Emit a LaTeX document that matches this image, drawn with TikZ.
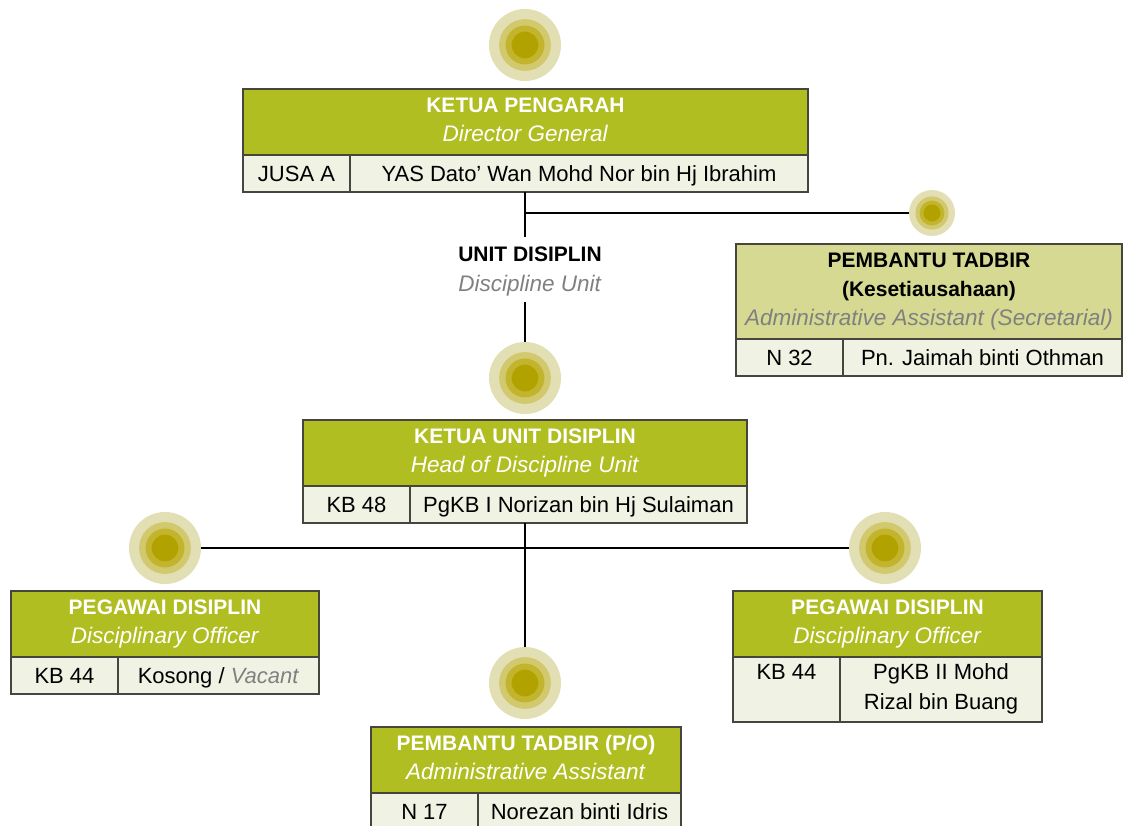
\documentclass[tikz,border=0pt]{standalone}
\usepackage{fontspec}
\setmainfont{Liberation Sans}
\usetikzlibrary{positioning}
\definecolor{OrgGreen}{RGB}{176,190,34}
\definecolor{OrgPale}{RGB}{213,217,145}
\definecolor{OrgCell}{RGB}{240,242,228}
\definecolor{OrgLine}{RGB}{70,70,62}
\definecolor{OrgGray}{RGB}{128,128,128}
\definecolor{OrgRingA}{RGB}{227,223,180}
\definecolor{OrgRingB}{RGB}{210,200,110}
\definecolor{OrgRingC}{RGB}{195,180,45}
\definecolor{OrgRingD}{RGB}{178,162,0}
\newcommand{\orgtitle}[1]{{\fontsize{21}{29}\selectfont\bfseries #1}}
\newcommand{\orgstrut}{\rule[-5pt]{0pt}{26pt}}
\newcommand{\orgtop}[1]{\rule{0pt}{#1}}
\tikzset{
  org/head/.style={
    draw=OrgLine,
    line width=1.3pt,
    fill=OrgGreen,
    text=white,
    align=center,
    inner sep=0pt,
    outer sep=0pt,
    anchor=north west,
    minimum height=66pt,
    execute at begin node=\orgtop{32pt},
    execute at end node=\orgstrut,
    font=\fontsize{22.5}{29}\selectfont
  },
  org/softhead/.style={org/head, fill=OrgPale, text=black, minimum height=95pt,
    execute at begin node=\orgtop{34pt}},
  org/grade/.style={
    draw=OrgLine,
    line width=1.3pt,
    fill=OrgCell,
    align=center,
    inner sep=0pt,
    outer sep=0pt,
    anchor=north west,
    minimum width=107pt,
    minimum height=37pt,
    execute at begin node=\orgstrut,
    execute at end node=\orgstrut,
    font=\fontsize{22}{30}\selectfont
  },
  org/name/.style={org/grade, minimum width=#1},
  org/tall/.style={minimum height=65pt, execute at begin node=\orgtop{36pt}},
  org/dot/.style={
    circle,
    inner sep=0pt,
    minimum size=2*#1pt,
    fill=OrgRingA,
    path picture={
      \fill[OrgRingB] (path picture bounding box.center) circle[radius=0.72*#1pt];
      \fill[OrgRingC] (path picture bounding box.center) circle[radius=0.54*#1pt];
      \fill[OrgRingD] (path picture bounding box.center) circle[radius=0.37*#1pt];
    }
  },
  org/label/.style={align=center, inner xsep=9pt, inner ysep=2pt,
    execute at begin node=\orgtop{32pt}, execute at end node=\orgstrut,
    font=\fontsize{22.5}{30}\selectfont},
  org/link/.style={draw=black, line width=1.2pt}
}

\begin{document}
\begin{tikzpicture}[x=1pt,y=-1pt]
  \useasboundingbox (0,0) rectangle (1124,826);

  % ring markers
  \foreach \nm/\x/\y in {c1/525/45,c2/525/378,c3/165/548,c4/885/548,c5/525/683}
  {\node[org/dot=36] (\nm) at (\x,\y) {};}
  \node[org/dot=23] (s1) at (932,213) {};

  % director general
  \node[org/head, minimum width=565pt] (pg) at (243,89)
    {\orgtitle{KETUA PENGARAH}\\\textit{Director General}};
  \node[org/grade] (pg-grade) at (pg.south west) {JUSA A};
  \node[org/name=458pt] (pg-name) at (pg-grade.north east)
    {YAS Dato’ Wan Mohd Nor bin Hj Ibrahim};

  % secretarial
  \node[org/softhead, minimum width=386pt] (pts) at (736,244)
    {\orgtitle{PEMBANTU TADBIR}\\\orgtitle{(Kesetiausahaan)}\\
     \textcolor{OrgGray}{\textit{Administrative Assistant (Secretarial)}}};
  \node[org/grade] (pts-grade) at (pts.south west) {N 32};
  \node[org/name=279pt] (pts-name) at (pts-grade.north east) {Pn. Jaimah binti Othman};

  \node[org/label] (unit) at (530,272)
    {\orgtitle{UNIT DISIPLIN}\\\textcolor{OrgGray}{\textit{Discipline Unit}}};

  % head of unit
  \node[org/head, minimum width=444pt] (ku) at (303,420)
    {\orgtitle{KETUA UNIT DISIPLIN}\\\textit{Head of Discipline Unit}};
  \node[org/grade] (ku-grade) at (ku.south west) {KB 48};
  \node[org/name=337pt] (ku-name) at (ku-grade.north east)
    {PgKB I Norizan bin Hj Sulaiman};

  % officers
  \node[org/head, minimum width=308pt] (pd1) at (11,591)
    {\orgtitle{PEGAWAI DISIPLIN}\\\textit{Disciplinary Officer}};
  \node[org/grade] (pd1-grade) at (pd1.south west) {KB 44};
  \node[org/name=201pt] (pd1-name) at (pd1-grade.north east)
    {Kosong / \textcolor{OrgGray}{\textit{Vacant}}};

  \node[org/head, minimum width=309pt] (pd2) at (733,591)
    {\orgtitle{PEGAWAI DISIPLIN}\\\textit{Disciplinary Officer}};
  \node[org/grade, org/tall] (pd2-grade) at (pd2.south west) {KB 44\\};
  \node[org/name=202pt, org/tall] (pd2-name) at (pd2-grade.north east)
    {PgKB II Mohd\\Rizal bin Buang};

  \node[org/head, minimum width=310pt] (pt) at (371,727)
    {\orgtitle{PEMBANTU TADBIR (P/O)}\\\textit{Administrative Assistant}};
  \node[org/grade] (pt-grade) at (pt.south west) {N 17};
  \node[org/name=203pt] (pt-name) at (pt-grade.north east) {Norezan binti Idris};

  % connectors
  \draw[org/link] (pg-name.south -| c1) -- ([yshift=8pt]unit.north -| c1);
  \draw[org/link] (c1 |- s1) -- (s1.west);
  \draw[org/link] ([yshift=-3pt]unit.south -| c1) -- (c2.north);
  \draw[org/link] (ku-name.south -| c2) -- (c5.north);
  \draw[org/link] (c3.east) -- (c4.west);
\end{tikzpicture}
\end{document}
